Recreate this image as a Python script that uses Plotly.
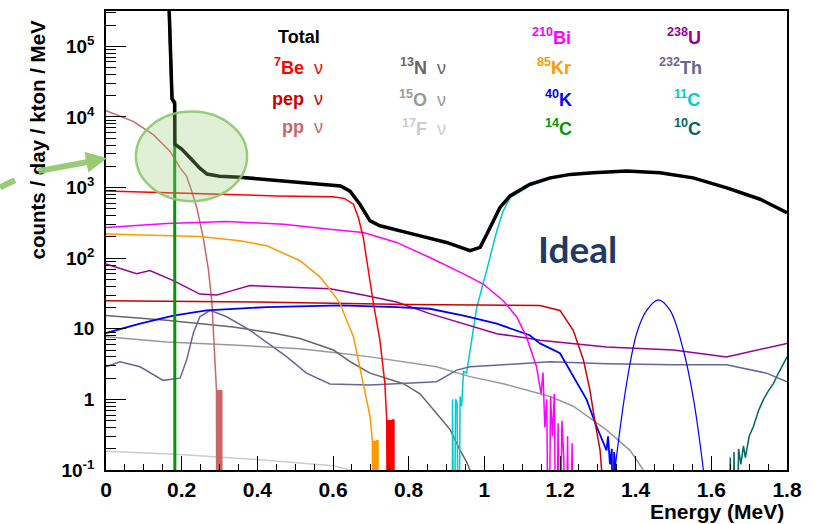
import plotly.graph_objects as go

# ---------------- data (counts / day / kton / MeV) ----------------
total_E = [0, 0.164, 0.1745, 0.1815, 0.182, 0.2, 0.222, 0.248, 0.267, 0.3, 0.354, 0.425, 0.513, 0.592, 0.62,
           0.645, 0.671, 0.698, 0.724, 0.812, 0.9, 0.962, 0.989, 1.015, 1.041, 1.068, 1.12, 1.174, 1.227,
           1.287, 1.376, 1.464, 1.552, 1.641, 1.729, 1.8]
total_V = [1e6, 1e6, 1.8e4, 1.6e4, 4100, 3500, 2640, 1880, 1550, 1450, 1400, 1300, 1190, 1110, 1050,
           890, 580, 337, 287, 219, 167, 128, 142, 270, 518, 760, 1110, 1370, 1535,
           1620, 1710, 1620, 1370, 990, 683, 442]

be7_E = [0, 0.15, 0.3, 0.45, 0.6, 0.63, 0.654, 0.667, 0.68, 0.693, 0.707, 0.724, 0.737, 0.742,
         0.744, 0.746, 0.748, 0.75, 0.752, 0.754, 0.756, 0.758, 0.761, 0.7615]
be7_V = [890, 840, 790, 760, 740, 700, 580, 376, 196, 67, 22.6, 6.9, 1.7, 0.51,
         1e-3, 0.51, 1e-3, 0.51, 1e-3, 0.51, 1e-3, 0.51, 0.51, 1e-3]

pep_E = [0, 0.4, 0.8, 1.147, 1.2, 1.235, 1.262, 1.279, 1.293, 1.306, 1.31, 1.311]
pep_V = [25, 24, 22, 21.4, 18.2, 9.5, 3.6, 1.36, 0.46, 0.19, 0.1, 1e-3]

pp_E = [0, 0.072, 0.125, 0.169, 0.196, 0.213, 0.2265, 0.24, 0.257, 0.271, 0.28, 0.285, 0.288, 0.292,
        0.293, 0.294, 0.295, 0.296, 0.297, 0.298, 0.299, 0.3, 0.301, 0.302, 0.303, 0.304, 0.305,
        0.306, 0.3065]
pp_V = [12200, 8650, 5620, 3270, 1900, 1450, 890, 518, 196, 67, 23, 8, 2.9, 1.36,
        1e-3, 1.36, 1e-3, 1.36, 1e-3, 1.36, 1e-3, 1.36, 1e-3, 1.36, 1e-3, 1.36, 1e-3,
        1.36, 1e-3]

n13_E = [0, 0.16, 0.336, 0.442, 0.513, 0.601, 0.65, 0.698, 0.786, 0.83, 0.874, 0.91, 0.936, 0.953, 0.962, 0.963]
n13_V = [15.4, 13.2, 10.6, 8.7, 7.3, 5.0, 3.3, 2.35, 1.67, 1.2, 0.63, 0.37, 0.19, 0.13, 0.1, 1e-3]

o15_E = [0, 0.16, 0.336, 0.513, 0.619, 0.698, 0.874, 0.962, 1.05, 1.174, 1.235, 1.323, 1.385, 1.42]
o15_V = [7.7, 6.5, 5.9, 5.2, 4.5, 4.0, 2.9, 2.1, 1.67, 1.1, 0.8, 0.37, 0.19, 0.1]

f17_E = [0, 0.196, 0.407, 0.601, 0.645, 0.66]
f17_V = [0.184, 0.166, 0.14, 0.115, 0.1, 0.09]

bi210_E = [0, 0.16, 0.319, 0.469, 0.592, 0.68, 0.768, 0.856, 0.945, 0.997, 1.05, 1.086, 1.11, 1.138,
           1.15, 1.155, 1.16, 1.165, 1.17, 1.175, 1.18, 1.185, 1.19, 1.195, 1.2, 1.205, 1.21, 1.215,
           1.22, 1.225, 1.232, 1.236]
bi210_V = [272, 310, 330, 302, 257, 230, 167, 102, 60, 43, 25, 14.6, 8, 2.9,
           1.2, 2.4, 0.4, 1.0, 1e-3, 1.1, 0.3, 1.2, 1e-3, 0.46, 1e-3, 0.5, 0.15, 1e-3,
           0.3, 1e-3, 0.24, 1e-3]

kr85_E = [0, 0.248, 0.354, 0.425, 0.513, 0.566, 0.601, 0.619, 0.636, 0.654, 0.68, 0.698, 0.704,
          0.706, 0.708, 0.71, 0.712, 0.714, 0.716, 0.719, 0.7195]
kr85_V = [219, 203, 176, 150, 92, 54, 31, 22.6, 13.2, 7.7, 1.66, 0.57, 0.26,
          1e-3, 0.26, 1e-3, 0.26, 1e-3, 0.26, 0.26, 1e-3]

k40_E = [0, 0.09, 0.178, 0.266, 0.425, 0.619, 0.768, 0.856, 0.945, 1.033, 1.12, 1.147, 1.2, 1.235,
         1.27, 1.297, 1.323, 1.327, 1.332, 1.337, 1.34, 1.343, 1.346, 1.348]
k40_V = [8.7, 11.8, 15.4, 18.2, 20.3, 21.4, 20.3, 19.2, 15.4, 11.8, 8.1, 6.2, 4.5, 2.1,
         1.0, 0.41, 0.19, 0.3, 0.12, 0.2, 1e-3, 0.18, 0.12, 1e-3]

k40g_E = [1.345, 1.376, 1.403, 1.429, 1.46, 1.491, 1.526, 1.553, 1.579]
k40g_V = [0.1, 1.67, 8.7, 18.2, 25.7, 18.2, 5.0, 1.0, 0.1]

c14_E = [0, 0.164, 0.1745, 0.1815, 0.1822]
c14_V = [1e6, 1e6, 1.8e4, 1.5e4, 1e-3]

u238_E = [0, 0.081, 0.116, 0.178, 0.248, 0.293, 0.336, 0.38, 0.469, 0.592, 0.68, 0.768, 0.856, 0.945,
          1.033, 1.12, 1.147, 1.323, 1.5, 1.64, 1.72, 1.8]
u238_V = [83, 60, 67, 48, 31, 30, 35, 41, 39, 37, 30, 24, 16.4, 11.8,
          8.5, 7.3, 6.9, 5.5, 5.0, 4.0, 5.0, 6.2]

th232_E = [0, 0.037, 0.09, 0.151, 0.196, 0.213, 0.231, 0.248, 0.275, 0.319, 0.38, 0.425, 0.478, 0.53,
           0.592, 0.698, 0.786, 0.874, 0.927, 0.962, 1.05, 1.174, 1.323, 1.5, 1.64, 1.746, 1.8]
th232_V = [2.9, 3.4, 2.9, 1.86, 2.0, 3.6, 8.7, 14.8, 18.2, 14.8, 9.6, 6.5, 4.0, 2.35,
           1.65, 1.6, 1.67, 1.78, 2.6, 2.9, 3.1, 3.4, 3.2, 3.1, 3.1, 2.35, 1.78]

c11_E = [0.915, 0.916, 0.92, 0.924, 0.928, 0.932, 0.936, 0.94, 0.945, 0.953, 0.962, 0.98, 1.006, 1.033,
         1.05, 1.068, 1.12, 1.174, 1.227, 1.287, 1.376, 1.464, 1.552, 1.641, 1.729, 1.8]
c11_V = [1e-3, 1.0, 1e-3, 1.0, 0.9, 1e-3, 1.1, 0.8, 2.5, 2.35, 5.0, 20, 67, 244,
         467, 718, 1060, 1330, 1500, 1590, 1680, 1590, 1340, 970, 670, 435]

c10_E = [1.648, 1.65, 1.655, 1.66, 1.665, 1.672, 1.678, 1.685, 1.69, 1.7, 1.711, 1.725, 1.738, 1.75,
         1.764, 1.78, 1.8]
c10_V = [1e-3, 0.15, 1e-3, 0.18, 1e-3, 0.2, 0.12, 0.22, 0.15, 0.3, 0.41, 0.7, 1.0, 1.3,
         1.67, 2.5, 4.0]

# legend labels: (text, colour, column right edge in px, row centre in px)
NU = "<span style='font-weight:normal'>ν</span>"
labels = [
    ("Total", "#000000", 322, 35),
    ("<sup>7</sup>Be  " + NU, "#ff0000", 325, 65),
    ("pep  " + NU, "#cc0000", 325, 97),
    ("pp  " + NU, "#cc6666", 325, 126),
    ("<sup>13</sup>N  " + NU, "#666666", 448, 65),
    ("<sup>15</sup>O  " + NU, "#999999", 448, 97),
    ("<sup>17</sup>F  " + NU, "#cccccc", 448, 126),
    ("<sup>210</sup>Bi", "#ff00ff", 573, 35),
    ("<sup>85</sup>Kr", "#ff9900", 573, 65),
    ("<sup>40</sup>K", "#0000ff", 574, 97),
    ("<sup>14</sup>C", "#009900", 574, 126),
    ("<sup>238</sup>U", "#990099", 703, 35),
    ("<sup>232</sup>Th", "#666699", 704, 65),
    ("<sup>11</sup>C", "#00cccc", 702, 97),
    ("<sup>10</sup>C", "#006666", 703, 126),
]

series = [
    ("17F", f17_E, f17_V, "#cccccc", 1.5),
    ("15O", o15_E, o15_V, "#999999", 1.5),
    ("13N", n13_E, n13_V, "#666666", 1.5),
    ("pp", pp_E, pp_V, "#cc6666", 1.5),
    ("10C", c10_E, c10_V, "#006666", 1.5),
    ("11C", c11_E, c11_V, "#00cccc", 1.5),
    ("232Th", th232_E, th232_V, "#666699", 1.5),
    ("238U", u238_E, u238_V, "#990099", 1.5),
    ("40K", k40_E, k40_V, "#0000ff", 1.8),
    ("40K gamma", k40g_E, k40g_V, "#0000ff", 1.2),
    ("pep", pep_E, pep_V, "#cc0000", 1.5),
    ("85Kr", kr85_E, kr85_V, "#ff9900", 1.5),
    ("210Bi", bi210_E, bi210_V, "#ff00ff", 1.5),
    ("7Be", be7_E, be7_V, "#ff0000", 1.5),
    ("14C", c14_E, c14_V, "#009900", 3),
    ("Total", total_E, total_V, "#000000", 3.5),
]

W, H = 823, 524
ML, MR, MT, MB = 106, 36, 9, 54
PW, PH = W - ML - MR, H - MT - MB


def px2paper(px, py):
    return (px - ML) / PW, (H - MB - py) / PH


fig = go.Figure()
for name, e, v, col, lw in series:
    shape = "spline" if name == "40K gamma" else "linear"
    fig.add_trace(go.Scatter(x=e, y=v, mode="lines", name=name,
                             line=dict(color=col, width=lw, shape=shape),
                             showlegend=False, hoverinfo="skip"))

FONT = "Liberation Sans, Arial, sans-serif"
annos = []
for txt, col, rx, cy in labels:
    xp, yp = px2paper(rx, cy)
    annos.append(dict(text=txt, x=xp, y=yp, xref="paper", yref="paper", xanchor="right",
                      yanchor="middle", showarrow=False,
                      font=dict(family=FONT, size=18, color=col, weight="bold")))

# "Ideal"
xp, yp = px2paper(577, 248)
annos.append(dict(text="Ideal", x=xp, y=yp, xref="paper", yref="paper", showarrow=False,
                  xanchor="center", yanchor="middle",
                  font=dict(family="Lato, Open Sans, sans-serif", size=37, color="#1f3a68",
                            weight="bold")))
# y title
xp, yp = px2paper(37, 138)
annos.append(dict(text="counts / day / kton / MeV", x=xp, y=yp, xref="paper", yref="paper",
                  textangle=-90, showarrow=False, xanchor="center", yanchor="middle",
                  font=dict(family=FONT, size=20.5, color="black", weight="bold")))
# x title
xp, yp = px2paper(786, 512)
annos.append(dict(text="Energy (MeV)", x=xp, y=yp, xref="paper", yref="paper", xanchor="right",
                  yanchor="middle", showarrow=False,
                  font=dict(family=FONT, size=21, color="black", weight="bold")))
# green arrow
xt, yt = px2paper(107, 157)
annos.append(dict(text="", x=xt, y=yt, xref="paper", yref="paper", ax=-70, ay=13,
                  showarrow=True, arrowhead=2, arrowsize=0.7, arrowwidth=6,
                  arrowcolor="rgba(150,200,110,0.95)"))

shapes = []
x0p, y0p = px2paper(0, 186)
x1p, y1p = px2paper(15, 179)
shapes.append(dict(type="line", xref="paper", yref="paper", x0=x0p, y0=y0p, x1=x1p, y1=y1p,
                   line=dict(color="rgba(150,200,110,0.95)", width=6)))
# ellipse highlight
_, ey0 = px2paper(0, 200)
_, ey1 = px2paper(0, 110)
shapes.append(dict(type="circle", xref="x", yref="paper", x0=0.079, x1=0.373, y0=ey0, y1=ey1,
                   fillcolor="rgba(150,205,120,0.3)", line=dict(color="rgba(140,200,110,0.9)", width=2.5),
                   layer="above"))

ymajor = [0.1, 1, 10, 100, 1e3, 1e4, 1e5]
ytext = ["10<sup>-1</sup>", "1", "10", "10<sup>2</sup>", "10<sup>3</sup>", "10<sup>4</sup>", "10<sup>5</sup>"]
yminor = [m * 10 ** e for e in range(-1, 6) for m in range(2, 10) if m * 10 ** e < 3.2e5]

fig.update_layout(
    width=W, height=H, margin=dict(l=ML, r=MR, t=MT, b=MB),
    paper_bgcolor="white", plot_bgcolor="white",
    annotations=annos, shapes=shapes,
    xaxis=dict(range=[0, 1.8], dtick=0.2, tick0=0, ticks="inside", ticklen=14, tickwidth=1,
               tickcolor="black", showline=True, linecolor="black", linewidth=1.5, mirror=True,
               showgrid=False, zeroline=False, ticklabelstandoff=0,
               tickfont=dict(family=FONT, size=21, color="black", weight="bold"),
               minor=dict(dtick=0.05, ticks="inside", ticklen=6, tickcolor="black", showgrid=False)),
    yaxis=dict(type="log", range=[-1, 5.5], tickmode="array", tickvals=ymajor, ticktext=ytext,
               ticks="inside", ticklen=20, tickwidth=1, tickcolor="black", showline=True,
               linecolor="black", linewidth=1.5, mirror=True, showgrid=False, zeroline=False,
               ticklabelstandoff=6,
               tickfont=dict(family=FONT, size=19, color="black", weight="bold"),
               minor=dict(tickmode="array", tickvals=yminor, ticks="inside", ticklen=10,
                          tickcolor="black", showgrid=False)),
)

fig.write_html("out.html")
